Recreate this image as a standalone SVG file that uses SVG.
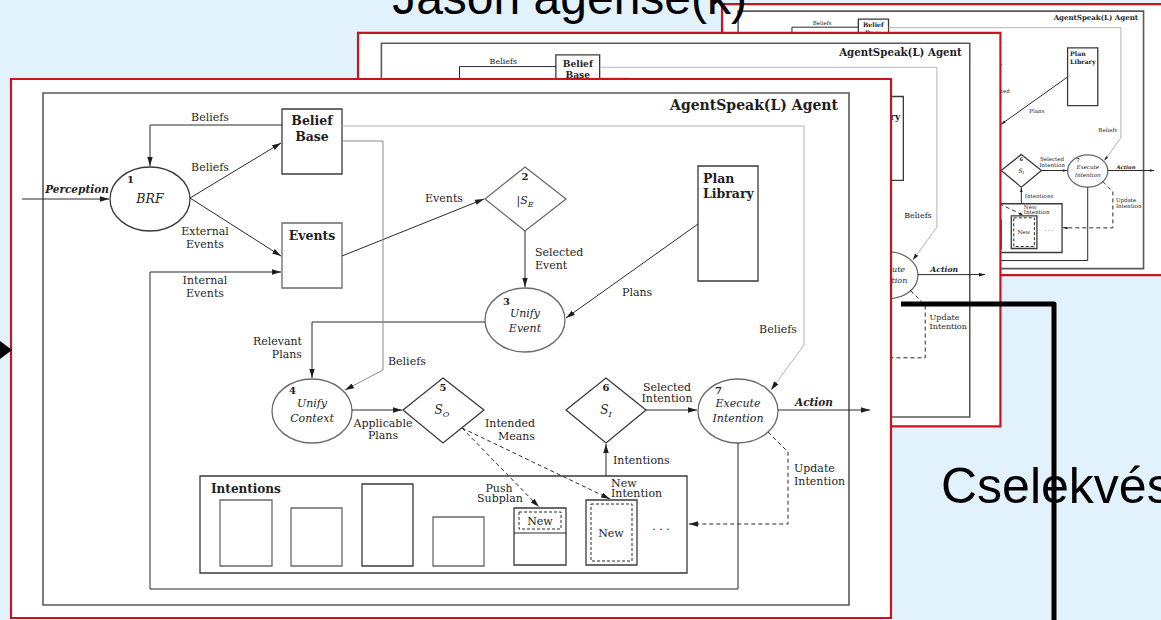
<svg xmlns="http://www.w3.org/2000/svg" xmlns:xlink="http://www.w3.org/1999/xlink" width="1161" height="620" viewBox="0 0 1161 620">
  <style>
    .ln { fill: none; stroke: #2a2a2a; stroke-width: 1; vector-effect: non-scaling-stroke; }
    .lg { stroke: #b4b4b4; }
    .lm { stroke: #8a8a8a; }
    .dash { stroke-dasharray: 4 3; }
    .sheet { fill: #ffffff; stroke: #c8141e; stroke-width: 2.2; vector-effect: non-scaling-stroke; }
    .frame { fill: none; stroke: #5a5a5a; stroke-width: 1.6; vector-effect: non-scaling-stroke; }
    .box { fill: #ffffff; stroke: #3a3a3a; stroke-width: 1.3; vector-effect: non-scaling-stroke; }
    .boxg { fill: #ffffff; stroke: #6a6a6a; stroke-width: 1.3; vector-effect: non-scaling-stroke; }
    .inner { fill: none; stroke: #2a2a2a; stroke-width: 1; stroke-dasharray: 3 2; vector-effect: non-scaling-stroke; }
    .t { font-family: "DejaVu Serif", "Liberation Serif", serif; font-size: 11px; fill: #1e1e1e; }
    .b { font-weight: bold; font-size: 12.5px; }
    .i { font-style: italic; }
    .n { font-weight: bold; font-size: 10px; }
    .c { text-anchor: middle; }
    .e { text-anchor: end; }
    .slide { font-family: "Liberation Sans", Arial, sans-serif; fill: #000000; }
  </style>
  <defs>
    <marker id="ah" viewBox="0 0 10 6" refX="10" refY="3" markerWidth="9" markerHeight="5.4" markerUnits="userSpaceOnUse" orient="auto">
      <path d="M0,0 L10,3 L0,6 z" fill="#1e1e1e"/>
    </marker>

    <!-- One complete AgentSpeak(L) reasoning-cycle sheet, drawn at full size -->
    <g id="agent-panel">
      <rect class="sheet" x="11" y="79" width="880" height="539"/>
      <rect class="frame" x="43" y="93" width="806" height="512"/>
      <text class="t b e" x="838" y="110" style="font-size:14px">AgentSpeak(L) Agent</text>

      <g id="brf">
        <ellipse class="box" cx="150" cy="199" rx="40" ry="32"/>
        <text class="t n" x="127" y="183">1</text>
        <text class="t c i" x="150" y="203" style="font-size:12.5px">BRF</text>
      </g>
      <g id="belief-base">
        <rect class="box" x="282" y="109" width="60" height="65"/>
        <text class="t b c" x="312" y="125">Belief</text>
        <text class="t b c" x="312" y="141">Base</text>
      </g>
      <g id="events">
        <rect class="boxg" x="282" y="223" width="60" height="65"/>
        <text class="t b c" x="312" y="240">Events</text>
      </g>
      <g id="select-event">
        <polygon class="boxg" points="525,167 566,199 525,231 485,199"/>
        <text class="t n c" x="525" y="180">2</text>
        <text class="t c" x="525" y="204">|<tspan class="i">S</tspan><tspan class="i" dy="3" style="font-size:8px">E</tspan></text>
      </g>
      <g id="plan-library">
        <rect class="box" x="698" y="166" width="60" height="115"/>
        <text class="t b" x="703" y="183">Plan</text>
        <text class="t b" x="703" y="198">Library</text>
      </g>
      <g id="unify-event">
        <ellipse class="boxg" cx="525" cy="320" rx="40" ry="32"/>
        <text class="t n" x="503" y="305">3</text>
        <text class="t c i" x="525" y="317">Unify</text>
        <text class="t c i" x="525" y="332">Event</text>
      </g>
      <g id="unify-context">
        <ellipse class="boxg" cx="312" cy="411" rx="40" ry="32"/>
        <text class="t n" x="289" y="394">4</text>
        <text class="t c i" x="312" y="407">Unify</text>
        <text class="t c i" x="312" y="422">Context</text>
      </g>
      <g id="select-option">
        <polygon class="box" points="443,378 484,410 443,443 403,410"/>
        <text class="t n c" x="443" y="391">5</text>
        <text class="t c i" x="442" y="414" style="font-size:12px">S<tspan dy="3" style="font-size:8px">O</tspan></text>
      </g>
      <g id="select-intention">
        <polygon class="box" points="606,378 646,410 606,443 566,410"/>
        <text class="t n c" x="606" y="391">6</text>
        <text class="t c i" x="606" y="414" style="font-size:12px">S<tspan dy="3" style="font-size:8px">I</tspan></text>
      </g>
      <g id="execute-intention">
        <ellipse class="boxg" cx="738" cy="411" rx="40" ry="32"/>
        <text class="t n" x="715" y="394">7</text>
        <text class="t c i" x="738" y="407">Execute</text>
        <text class="t c i" x="738" y="422">Intention</text>
      </g>
      <g id="intentions">
        <rect class="box" x="200" y="476" width="487" height="97"/>
        <text class="t b" x="211" y="493" style="font-size:12px">Intentions</text>
        <rect class="boxg" x="220" y="500" width="52" height="66"/>
        <rect class="boxg" x="291" y="508" width="51" height="58"/>
        <rect class="box" x="362" y="484" width="51" height="82"/>
        <rect class="boxg" x="433" y="517" width="51" height="49"/>
        <rect class="box" x="514" y="508" width="52" height="57"/>
        <line class="ln" x1="514" y1="533" x2="566" y2="533"/>
        <rect class="inner" x="519" y="512" width="42" height="17"/>
        <text class="t c" x="540" y="525">New</text>
        <rect class="box" x="586" y="500" width="51" height="65"/>
        <rect class="inner" x="591" y="504" width="41" height="57"/>
        <text class="t c" x="611" y="537">New</text>
        <text class="t c" x="661" y="530">. . .</text>
      </g>

      <g id="connectors">
        <polyline class="ln" points="282,125 150,125 150,166" marker-end="url(#ah)"/>
        <line class="ln" x1="190" y1="198" x2="281" y2="143" marker-end="url(#ah)"/>
        <line class="ln" x1="190" y1="198" x2="281" y2="256" marker-end="url(#ah)"/>
        <line class="ln" x1="22" y1="199" x2="109" y2="199" marker-end="url(#ah)"/>
        <line class="ln" x1="342" y1="256" x2="484" y2="199" marker-end="url(#ah)"/>
        <line class="ln" x1="525" y1="231" x2="525" y2="287" marker-end="url(#ah)"/>
        <line class="ln" x1="698" y1="224" x2="566" y2="318" marker-end="url(#ah)"/>
        <polyline class="ln" points="485,322 312,322 312,378" marker-end="url(#ah)"/>
        <polyline class="ln lm" points="342,141 383,141 383,370 345,390" marker-end="url(#ah)"/>
        <line class="ln" x1="352" y1="410" x2="402" y2="410" marker-end="url(#ah)"/>
        <line class="ln dash" x1="462" y1="428" x2="539" y2="507" marker-end="url(#ah)"/>
        <line class="ln dash" x1="462" y1="428" x2="610" y2="499" marker-end="url(#ah)"/>
        <line class="ln" x1="606" y1="476" x2="606" y2="444" marker-end="url(#ah)"/>
        <line class="ln" x1="646" y1="410" x2="697" y2="410" marker-end="url(#ah)"/>
        <line class="ln" x1="778" y1="410" x2="870" y2="410" marker-end="url(#ah)"/>
        <polyline class="ln lg" points="342,126 804,126 804,345 771,390" marker-end="url(#ah)"/>
        <polyline class="ln dash" points="768,432 788,452 788,524 689,524" marker-end="url(#ah)"/>
        <polyline class="ln" points="738,443 738,589 150,589 150,272 281,272" marker-end="url(#ah)"/>

        <text class="t c" x="210" y="121">Beliefs</text>
        <text class="t c" x="210" y="171">Beliefs</text>
        <text class="t c" x="205" y="235">External</text>
        <text class="t c" x="205" y="248">Events</text>
        <text class="t c" x="205" y="284">Internal</text>
        <text class="t c" x="205" y="297">Events</text>
        <text class="t c i" x="77" y="193" style="font-weight:bold;font-size:10.5px">Perception</text>
        <text class="t c" x="444" y="202">Events</text>
        <text class="t" x="535" y="256">Selected</text>
        <text class="t" x="535" y="269">Event</text>
        <text class="t" x="622" y="296">Plans</text>
        <text class="t e" x="302" y="345">Relevant</text>
        <text class="t e" x="302" y="358">Plans</text>
        <text class="t" x="388" y="365">Beliefs</text>
        <text class="t c" x="383" y="427">Applicable</text>
        <text class="t c" x="383" y="439">Plans</text>
        <text class="t e" x="535" y="427">Intended</text>
        <text class="t e" x="535" y="440">Means</text>
        <text class="t c" x="499" y="492">Push</text>
        <text class="t c" x="500" y="502">Subplan</text>
        <text class="t" x="611" y="487">New</text>
        <text class="t" x="611" y="497">Intention</text>
        <text class="t" x="613" y="464">Intentions</text>
        <text class="t c" x="667" y="391">Selected</text>
        <text class="t c" x="667" y="402">Intention</text>
        <text class="t c i" x="814" y="406" style="font-weight:bold;font-size:10.5px">Action</text>
        <text class="t c" x="778" y="333">Beliefs</text>
        <text class="t" x="794" y="472">Update</text>
        <text class="t" x="794" y="485">Intention</text>
      </g>
    </g>
  </defs>

  <!-- slide background -->
  <rect x="0" y="0" width="1161" height="620" fill="#e2f2fc"/>

  <!-- rear sheet -->
  <use xlink:href="#agent-panel" transform="translate(716.5,-35.7) scale(0.503)"/>

  <!-- slide title, partly above the top edge -->
  <text class="slide" x="747" y="14" text-anchor="end" font-size="48">Jason ágense(k)</text>

  <!-- middle sheet -->
  <use xlink:href="#agent-panel" transform="translate(350,-24.7) scale(0.73)"/>

  <!-- heavy callout line -->
  <polyline points="901,304 1054,304 1054,622" fill="none" stroke="#000" stroke-width="5" stroke-linejoin="round"/>

  <!-- front sheet -->
  <use xlink:href="#agent-panel"/>

  <text class="slide" x="941" y="503" font-size="50">Cselekvés</text>
  <polygon points="0,341 12,350 0,359" fill="#000"/>
</svg>
